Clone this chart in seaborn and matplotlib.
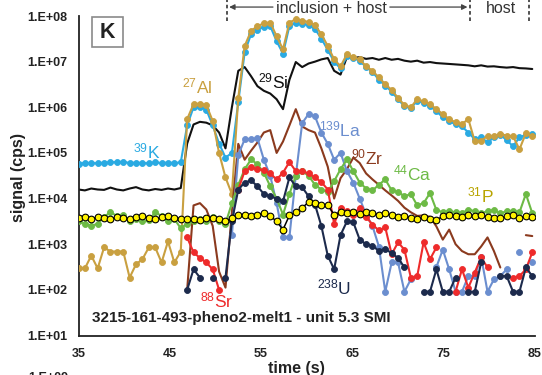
import numpy as np
import pandas as pd
import matplotlib
matplotlib.use("Agg")
import matplotlib.pyplot as plt
from matplotlib.patches import Rectangle
from matplotlib.transforms import blended_transform_factory
import seaborn as sns

sns.set_theme(style="white")
plt.rcParams["font.family"] = ["Liberation Sans", "DejaVu Sans"]
plt.rcParams["mathtext.fontset"] = "custom"
plt.rcParams["mathtext.rm"] = "Liberation Sans"
plt.rcParams["mathtext.default"] = "regular"

# acquisition time grid (s)
time_s = np.round(35 + 0.7 * np.arange(72), 2)
N = None

k39 = [5.8e4, 6.0e4, 6.0e4, 5.9e4, 6.1e4, 6.2e4, 6.3e4, 6.4e4, 6.0e4, 6.1e4, 6.0e4, 5.9e4, 6.2e4, 6.0e4, 6.1e4, 6.0e4, 6.2e4,
       4.0e5, 1.0e6, 1.0e6, 8.9e5, 4.0e5, 1.6e5, 7.9e4, 1.0e5, 1.3e6, 1.6e7, 4.0e7, 5.0e7, 5.8e7, 6.0e7, 2.8e7, 1.5e7,
       6.0e7, 7.1e7, 6.8e7, 6.3e7, 5.2e7, 3.2e7, 1.8e7, 1.0e7, 7.1e6, 1.3e7, 1.2e7, 1.05e7, 7.6e6, 6.0e6, 4.0e6, 3.0e6,
       2.2e6, 1.5e6, 1.05e6, 9.5e5, 1.4e6, 1.26e6, 1.05e6, 8.3e5, 6.0e5, 5.0e5, 4.2e5, 3.8e5, 2.8e5, 2.0e5, 2.2e5, 1.7e5,
       2.2e5, 2.5e5, 1.9e5, 1.4e5, 2.2e5, 2.5e5, 2.6e5]
al27 = [295, 295, 562, 295, 851, 692, 692, 692, 186, 363, 468, 851, 851, 398, 1150, 398, 692,
        5.5e5, 1.17e6, 1.2e6, 1.12e6, 5.0e5, 1.0e5, 2.9e4, 1.26e4, 1.6e6, 2.2e7, 4.7e7, 6.0e7, 6.9e7, 7.2e7, 3.6e7, 1.86e7,
        7.2e7, 8.5e7, 7.9e7, 7.4e7, 6.3e7, 4.0e7, 2.2e7, 1.12e7, 7.9e6, 1.45e7, 1.26e7, 1.12e7, 7.9e6, 6.3e6, 4.5e6, 3.2e6,
        2.4e6, 1.6e6, 1.12e6, 1.0e6, 1.5e6, 1.35e6, 1.17e6, 9.1e5, 7.1e5, 5.5e5, 4.7e5, 4.3e5, 5.5e5, 1.8e5, 1.8e5, 2.4e5,
        2.3e5, 2.6e5, 2.4e5, 2.3e5, 1.2e5, 2.7e5, 2.3e5]
si29 = [1.58e4, 1.51e4, 1.66e4, 1.58e4, 1.55e4, 1.74e4, 1.58e4, 1.51e4, 1.66e4, 1.78e4, 1.58e4, 1.51e4, 1.62e4, 1.55e4, 1.66e4, 1.58e4, 1.7e4,
        1.6e5, 4.2e5, 4.8e5, 4.6e5, 4.0e5, 2.8e5, 1.26e5, 1.0e6, 6.3e6, 7.6e6, 4.8e6, 2.9e6, 2.3e6, 2.0e6, 1.5e6, 9.1e5,
        4.0e6, 9.8e6, 7.6e6, 9.1e6, 1.0e7, 1.12e7, 1.2e7, 6.3e6, 5.2e6, 1.26e7, 1.2e7, 1.26e7, 1.15e7, 1.2e7, 1.1e7, 1.2e7,
        1.1e7, 1.15e7, 1.05e7, 1.0e7, 1.05e7, 9.5e6, 9.8e6, 9.3e6, 9.1e6, 8.9e6, 8.7e6, 8.5e6, 8.3e6, 7.9e6, 8.3e6, 7.8e6,
        7.9e6, 7.6e6, 7.4e6, 7.6e6, 7.2e6, 7.1e6, 6.9e6]
p31 = [3800, 3980, 3550, 3980, 3720, 3550, 3980, 3800, 3550, 3980, 4170, 3800, 3550, 3980, 4170, 3800, 3630,
       3550, 3630, 3390, 3720, 3800, 3550, 3160, 3800,
       4470, 4370, 4170, 4470, 4790, 4170, 3160, 2090, 4270, 5010, 6310, 8320, 7940, 7410, 7080, 4470, 5010, 4790,
       5010, 4570, 5010, 4790, 4470, 4790, 4270, 3980, 4170, 3800, 3550, 3980, 3550, 3310, 4170, 4470, 4170, 3980,
       4370, 4170, 4470, 3980, 3800, 3720, 4170, 4470, 3800, 4170, 3980]
ca44 = [3160, 2820, 2510, 2820, 3980, 5010, 4170, 4270, 3160, 3550, 3160, 3310, 5010, 4170, 3160, 3550, 2240,
        2820, 3160, 3550, 3160, 3980, 3160, 2820, 7940,
        2.0e4, 4.4e4, 7.2e4, 5.6e4, 3.7e4, 1.86e4, 1.0e4, 4470, 1.26e4, 3.16e4, 4.0e4, 3.16e4, 2.0e4, 1.58e4, 1.38e4,
        2.4e4, 4.4e4, 7.2e4, 4.0e4, 2.24e4, 1.66e4, 1.51e4, 2.0e4, 2.63e4, 1.51e4, 1.41e4, 1.12e4, 1.26e4, 7080, 7940,
        1.32e4, 5620, 5010, 5250, 5010, 4790, 5750, 5250, 4790, 5250, 5620, 4790, 5250, 5250, 5010, 1.26e4, 4790]
zr90 = [N] * 17 + [
        100, 7080, 7940, 5750, 2510, 251, 112, 5010, 1.58e5, 7.1e4, 1.12e5, 1.7e5, 2.8e5, 3.16e5, 1.0e5, 1.78e5,
        4.0e5, 9.1e5, 3.8e5, 3.16e5, 2.8e5, 1.26e5, 5.0e4, 1.0e4, 2.8e4, 4.4e4, 7.9e4, 6.0e4, 3.55e4, 2.63e4, 2.0e4,
        1.51e4, 1.17e4, 8910, 6310, 5010, 4170, 4270, 3980, 2450, 1260, 2090, 1000, 708, 603, 603, 891, 1410, 708, 309,
        N, N, N, 1580, 1510]
la139 = [N] * 24 + [
         1580, 8.9e4, 2.0e5, 2.0e5, 2.1e5, 7.1e4, 3.16e4, 7940, 1410, 1410, 3.16e4, 4.5e5, 7.1e5, 6.3e5, 2.8e5, 1.58e5,
         7.1e4, 1.0e5, 4.0e4, 2.24e4, 1.0e4, 4470, 2510, 891, 91, 398, 398, 91, 170, N, N, N, 316, 759, 282, 91, 91,
         200, 200, 537, 91, 170, 200, 282, N, 692, N, 398]
sr88 = [N] * 17 + [
        1410, 661, 501, 398, 282, 100, N, N, 1.58e4, 4.0e4, 4.8e4, 4.4e4, 4.2e4, 3.55e4, 2.63e4, 3.7e4, 6.3e4, 4.0e4,
        4.0e4, 3.55e4, 2.9e4, 2.3e4, 1.58e4, 2820, 6310, 5250, 4470, 6310, 3980, 2690, 2000, 2340, 603, 1100, 759, 186,
        200, 1100, 468, 851, N, N, 91, 282, 112, 240, 513, 309, N, N, N, 186, 200, 282, 661]
u238 = [N] * 17 + [
        100, 282, 186, N, 186, N, 186, 3160, 1.58e4, 2.24e4, 2.5e4, 1.86e4, 1.26e4, 1.12e4, 1.0e4, 8710, 2.9e4, 1.86e4,
        1.78e4, 1.12e4, 7410, 2510, 562, 282, 1580, 3160, 3020, 1260, 1000, 933, 708, 794, 631, 501, 309, N, N, 91, 91,
        282, 91, 91, 186, N, 91, 91, 398, N, N, 200, 200, 91, 91, 309, 200]

yticks = [1e1, 1e2, 1e3, 1e4, 1e5, 1e6, 1e7, 1e8]
ytick_labels = ["1.E+01", "1.E+02", "1.E+03", "1.E+04", "1.E+05", "1.E+06", "1.E+07", "1.E+08"]
xticks = [35, 45, 55, 65, 75, 85]

C_K, C_AL, C_SI = "#2AAAE2", "#C9A040", "#111111"
C_LA, C_ZR, C_CA = "#6B8ECF", "#8B3A1E", "#6DBA45"
C_P, C_SR, C_U = "#FFF200", "#EE2B2B", "#1C2A4C"

W, H = 542, 375
fig = plt.figure(figsize=(W / 100, H / 100), dpi=100)
ax = fig.add_axes([78.5 / W, 1 - 335.5 / H, (535 - 78.5) / W, (335.5 - 16) / H])


def draw(values, color, marker=True, lw=1.5, ms=4.3, mec=None, mfc=None, mew=0.6, z=2):
    s = pd.Series(values, dtype=float)
    seg = s.isna().cumsum()
    df = pd.DataFrame({"t": time_s, "v": s.values, "seg": seg.values}).dropna()
    kw = dict(color=color, lw=lw, zorder=z, legend=False, estimator=None, sort=False)
    if marker:
        kw.update(marker="o", markersize=ms, markeredgecolor=mec or color, markeredgewidth=mew)
    n0 = len(ax.lines)
    for _, g in df.groupby("seg"):
        sns.lineplot(data=g, x="t", y="v", ax=ax, **kw)
    if mfc is not None:
        for ln in ax.lines[n0:]:
            ln.set_markerfacecolor(mfc)


draw(si29, C_SI, marker=False, lw=1.5, z=2)
draw(k39, C_K, z=3)
draw(al27, C_AL, z=4)
draw(zr90, C_ZR, marker=False, lw=1.5, z=5)
draw(la139, C_LA, z=6)
draw(ca44, C_CA, z=7)
draw(sr88, C_SR, z=8)
draw(u238, C_U, z=9)
draw(p31, "black", lw=1.1, ms=4.8, mec="black", mfc=C_P, mew=0.8, z=10)

ax.set_yscale("log")
ax.set_xlim(35, 85)
ax.set_ylim(10, 1e8)
ax.set_yticks(yticks)
ax.set_yticklabels(ytick_labels)
ax.yaxis.set_minor_locator(matplotlib.ticker.NullLocator())
ax.set_xticks(xticks)
ax.set_xticklabels([str(v) for v in xticks])
ax.set_xlabel("")
ax.set_ylabel("")
for lab in ax.get_xticklabels() + ax.get_yticklabels():
    lab.set_fontweight("bold")
    lab.set_fontsize(9)
    lab.set_color("#222222")
ax.tick_params(axis="y", length=0, pad=8)
ax.tick_params(axis="x", length=0, pad=9)
for sp in ["top", "right"]:
    ax.spines[sp].set_visible(False)
for sp in ["left", "bottom"]:
    ax.spines[sp].set_color("#222222")
    ax.spines[sp].set_linewidth(1.3)
ax.set_facecolor("white")

# element labels
lab_fs = 12.5
labels = [("$^{39}$K", 41.0, 1.1e5, C_K), ("$^{27}$Al", 46.3, 2.8e6, C_AL), ("$^{29}$Si", 54.7, 3.7e6, C_SI),
          ("$^{139}$La", 61.3, 3.3e5, C_LA), ("$^{90}$Zr", 64.9, 7.9e4, C_ZR), ("$^{44}$Ca", 69.5, 3.5e4, C_CA),
          ("$^{31}$P", 77.5, 1.17e4, "#B8A400"), ("$^{88}$Sr", 48.3, 60, C_SR), ("$^{238}$U", 61.1, 112, C_U)]
for txt, x, y, c in labels:
    ax.text(x, y, txt, color=c, fontsize=lab_fs, ha="left", va="center", zorder=20)

ax.text(36.5, 24, "3215-161-493-pheno2-melt1 - unit 5.3 SMI", fontsize=11, fontweight="bold",
        color="#222222", ha="left", va="center", zorder=20)

# header annotations
tr = blended_transform_factory(ax.transData, ax.transAxes)
for xv in [51.3, 77.9, 84.3]:
    ax.plot([xv, xv], [0.985, 1.06], transform=tr, color="#444444", lw=1.3, ls=(0, (2, 1.5)), clip_on=False)
ax.text(62.7, 1.025, "inclusion + host", transform=tr, ha="center", va="center", fontsize=11.5, color="#333333")
ax.text(81.3, 1.025, "host", transform=tr, ha="center", va="center", fontsize=11.5, color="#333333")
arrow = dict(arrowstyle="-|>", color="#444444", lw=0.9, mutation_scale=8, shrinkA=0, shrinkB=0)
ax.annotate("", xy=(51.5, 1.028), xytext=(56.3, 1.028), xycoords=tr, textcoords=tr, arrowprops=arrow)
ax.annotate("", xy=(77.6, 1.028), xytext=(69.1, 1.028), xycoords=tr, textcoords=tr, arrowprops=arrow)

# panel letter box
fig.patches.append(Rectangle((92 / W, 1 - 47 / H), 31 / W, 30 / H, transform=fig.transFigure,
                             facecolor="white", edgecolor="#8a8a8a", lw=1.2, zorder=30))
fig.text(107.5 / W, 1 - 32 / H, "K", fontsize=15.5, fontweight="bold", color="#222222",
         ha="center", va="center", zorder=31)

fig.text(19 / W, 1 - 177 / H, "signal (cps)", rotation=90, fontsize=11.5, fontweight="bold",
         color="#222222", ha="center", va="center")
fig.text(296 / W, 1 - 368 / H, "time (s)", fontsize=11.5, fontweight="bold", color="#222222",
         ha="center", va="center")
fig.text(68 / W, 1 - 378 / H, "1.E+09", fontsize=9, fontweight="bold", color="#222222",
         ha="right", va="center")

fig.savefig("out.png", dpi=100, facecolor="white")
